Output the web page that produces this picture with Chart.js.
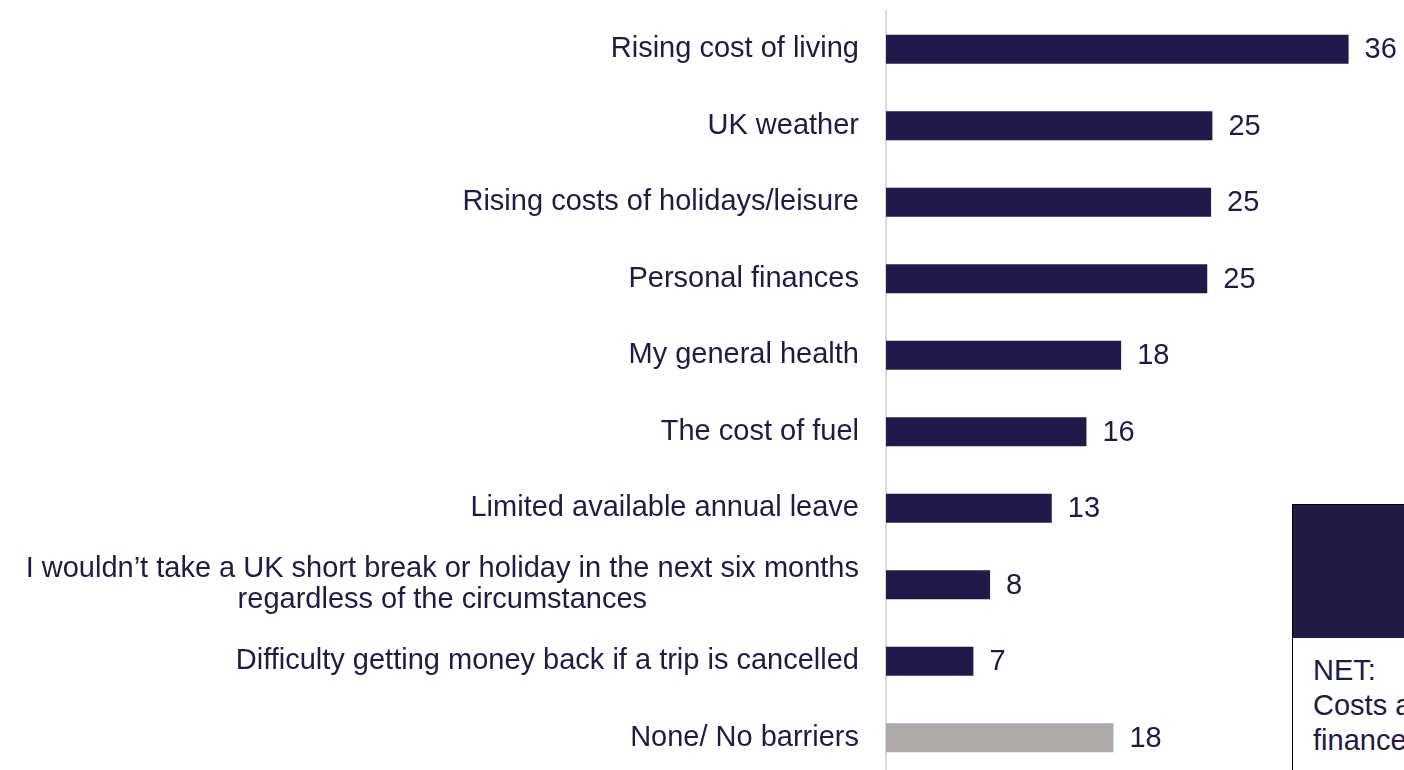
<!DOCTYPE html>
<html>
<head>
<meta charset="utf-8">
<script src="https://cdn.jsdelivr.net/npm/chart.js@4"></script>
<style>
  html, body { margin: 0; padding: 0; background: #fff; overflow: hidden; }
  #wrap { position: relative; width: 1404px; height: 770px; overflow: hidden; }
  #box { position: absolute; width: 1404px; height: 796px; left: 0; top: -6px; }
  .net-top { position: absolute; left: 1292px; top: 504px; width: 130px; height: 133px;
    background: #201a44; border: 1px solid #000; }
  .net-bottom { position: absolute; left: 1292px; top: 638px; width: 130px; height: 140px;
    background: #fff; border: 1px solid #000; border-top: none;
    font-family: Arial, "Liberation Sans", sans-serif; font-size: 29px; line-height: 35px;
    color: #201a44; padding: 15px 0 0 20px; box-sizing: border-box; white-space: nowrap; }
</style>
</head>
<body>
<div id="wrap">
  <div id="box"><canvas id="barrierChart"></canvas></div>
  <div class="net-top"></div>
  <div class="net-bottom">NET:<br>Costs and<br>finances</div>
</div>
<script>
const categories = [
  'Rising cost of living',
  'UK weather',
  'Rising costs of holidays/leisure',
  'Personal finances',
  'My general health',
  'The cost of fuel',
  'Limited available annual leave',
  ['I wouldn\u2019t take a UK short break or holiday in the next six months', 'regardless of the circumstances'],
  'Difficulty getting money back if a trip is cancelled',
  'None/ No barriers'
];
const values = [36, 25.4, 25.3, 25.0, 18.3, 15.6, 12.9, 8.1, 6.8, 17.7];
const valueLabels = ['36', '25', '25', '25', '18', '16', '13', '8', '7', '18'];
const barColors = ['#21194a', '#21194a', '#21194a', '#21194a', '#21194a', '#21194a', '#21194a', '#21194a', '#21194a', '#aeaaa9'];

const navy = '#201a44';
const font = 'Arial, "Liberation Sans", sans-serif';
const lineGap = 31;

// value labels after each bar, category labels right of the axis
// (multi-line labels are centred as a block, like the original)
const labelPlugin = {
  id: 'labels',
  afterDatasetsDraw(chart) {
    const ctx = chart.ctx;
    const meta = chart.getDatasetMeta(0);
    const yScale = chart.scales.y;
    const rightEdge = yScale.right - 27;
    ctx.save();
    ctx.font = '29px ' + font;
    ctx.fillStyle = navy;
    ctx.textBaseline = 'middle';

    ctx.textAlign = 'left';
    meta.data.forEach((bar, i) => {
      ctx.fillText(valueLabels[i], bar.x + 16, bar.y + 1);
    });

    categories.forEach((label, i) => {
      const y = yScale.getPixelForTick(i);
      if (Array.isArray(label)) {
        const w = Math.max(...label.map(l => ctx.measureText(l).width));
        const cx = rightEdge - w / 2;
        const y0 = y - (label.length - 1) * lineGap / 2;
        ctx.textAlign = 'center';
        label.forEach((line, j) => ctx.fillText(line, cx, y0 + j * lineGap));
      } else {
        ctx.textAlign = 'right';
        ctx.fillText(label, rightEdge, y);
      }
    });
    ctx.restore();
  }
};

const ctx = document.getElementById('barrierChart').getContext('2d');
new Chart(ctx, {
  type: 'bar',
  data: {
    labels: categories,
    datasets: [{
      data: values,
      backgroundColor: barColors,
      barPercentage: 0.38,
      categoryPercentage: 1.0
    }]
  },
  options: {
    indexAxis: 'y',
    responsive: true,
    maintainAspectRatio: false,
    animation: false,
    layout: { padding: { top: 17, right: 4, bottom: 14, left: 0 } },
    plugins: {
      legend: { display: false },
      tooltip: { enabled: false }
    },
    scales: {
      x: {
        display: false,
        min: 0,
        max: 40
      },
      y: {
        afterFit(scale) { scale.width = 886; },
        grid: { display: false },
        border: { display: true, color: '#d9d9d9', width: 2 },
        ticks: { display: false }
      }
    }
  },
  plugins: [labelPlugin]
});
</script>
</body>
</html>
